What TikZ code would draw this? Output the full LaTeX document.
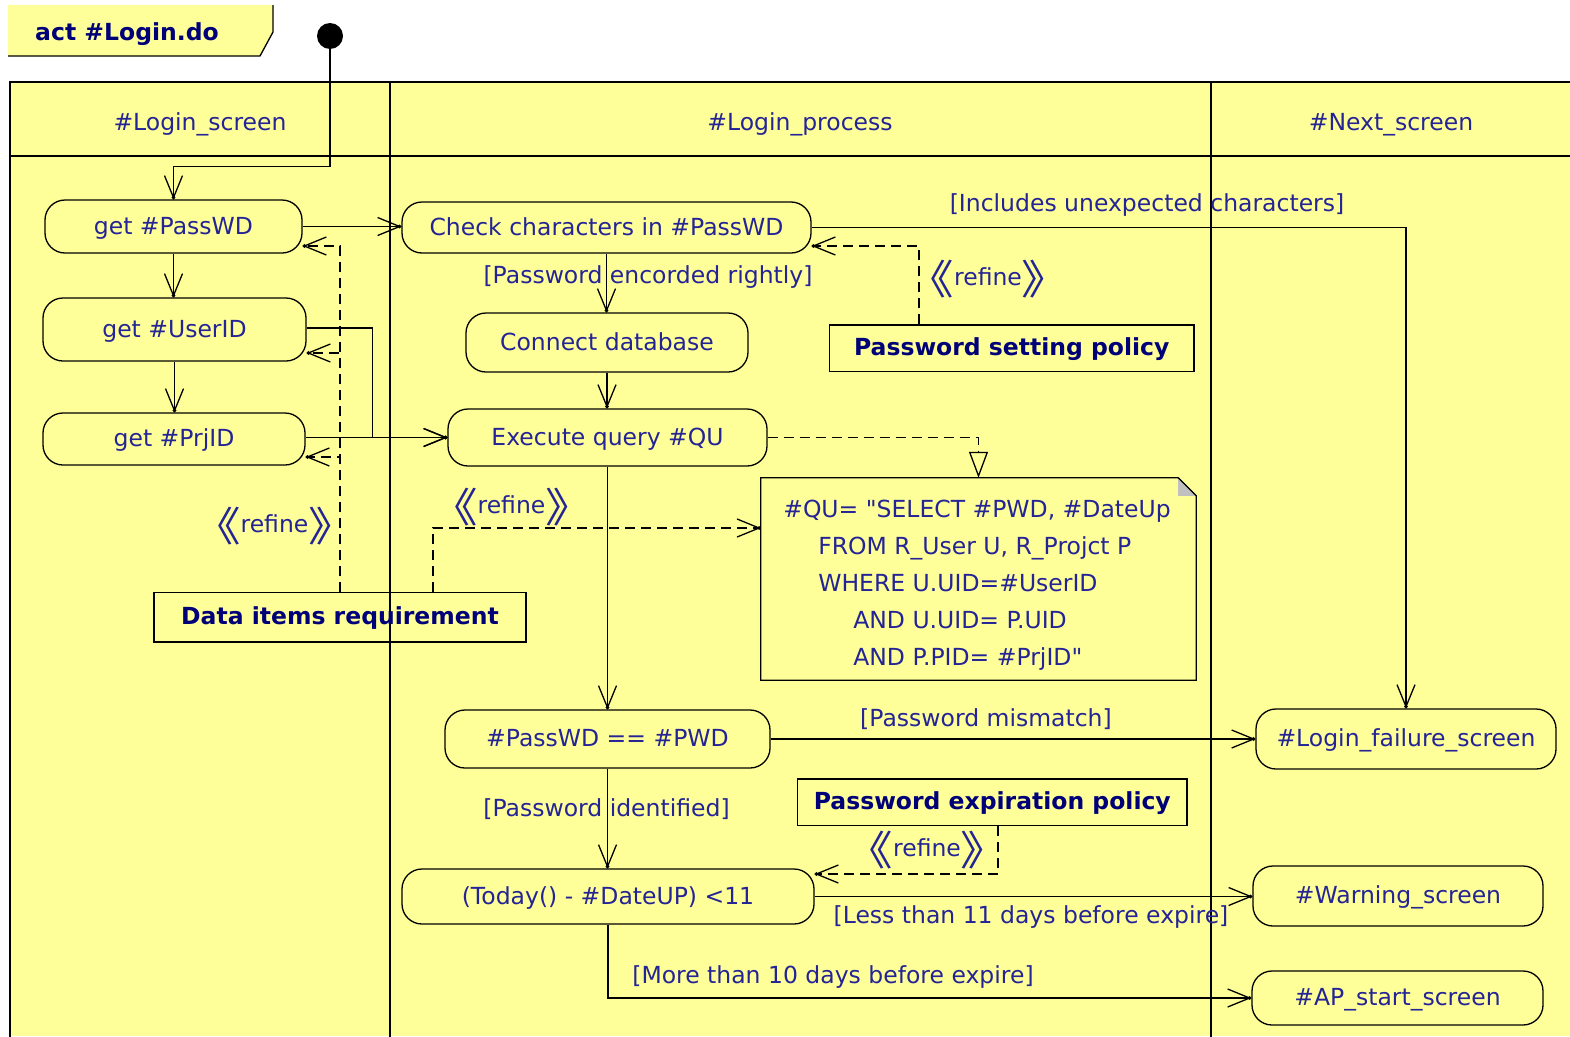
\documentclass[tikz,border=0pt]{standalone}
\usepackage{fontspec}
\setmainfont{DejaVu Sans}[Ligatures=TeXOff]
\newfontfamily\cjkfont{Noto Sans CJK SC}
\usetikzlibrary{arrows.meta,calc}
\definecolor{lanebg}{RGB}{255,255,153}
\definecolor{ink}{RGB}{36,36,150}
\definecolor{inkbold}{RGB}{0,0,120}
\definecolor{foldgray}{RGB}{192,192,192}
% stereotype label with CJK double angle brackets
\newcommand\stbracket[1]{\raisebox{-8.5pt}{\scalebox{1.7}[1.45]{\cjkfont\fontsize{28}{28}\selectfont #1}}}
\newcommand\refinelabel{\stbracket{《}refine\stbracket{》}}

\begin{document}
\begin{tikzpicture}[x=1pt,y=-1pt,
  txt/.style={font=\fontsize{23.5}{28}\selectfont, text=ink, inner sep=0pt, text height=17pt, text depth=2pt},
  action/.style={draw, line width=1.3pt, rounded corners=20pt, inner sep=0pt, txt},
  reqbox/.style={draw, line width=1.3pt, inner sep=0pt, font=\bfseries\fontsize{23.5}{28}\selectfont, text=inkbold, text height=17pt, text depth=2pt},
  tipV/.style={-{Straight Barb[length=22pt,width=18pt,sep=-3.5pt]Circle[length=3.5pt]}},
  flow/.style={line width=1.3pt, tipV},
  dep/.style={line width=1.3pt, dash pattern=on 10pt off 6pt, tipV},
  realize/.style={line width=1.3pt, dash pattern=on 10pt off 6pt, -{Triangle[length=26pt,width=19pt,fill=lanebg]}},
]
\useasboundingbox (0,0) rectangle (1570,1036);
\clip (0,0) rectangle (1570,1036);
\fill[white] (0,0) rectangle (1570,1036);

% frame tab
\fill[lanebg] (8,5) -- (273,5) -- (273,32) -- (260,56) -- (8,56) -- cycle;
\draw[line width=1.3pt] (273,5) -- (273,32) -- (260,56) -- (8,56);
\node[font=\bfseries\fontsize{23.5}{28}\selectfont, text=inkbold, inner sep=0pt, text height=17pt, text depth=2pt] (title) at (127,33) {act \#Login.do};

% swimlanes
\fill[lanebg] (10,82) rectangle (1570,1036);
\draw[line width=1.4pt] (10,1040) -- (10,82) -- (1575,82);
\draw[line width=1.4pt] (10,156) -- (1575,156);
\draw[line width=1.4pt] (390,82) -- (390,1040);
\draw[line width=1.4pt] (1211,82) -- (1211,1040);
\node[txt] (lane1) at (200,122.5) {\#Login\_screen};
\node[txt] (lane2) at (800,122.5) {\#Login\_process};
\node[txt] (lane3) at (1391,122.5) {\#Next\_screen};

% initial node
\node[circle, fill=black, minimum size=26pt, inner sep=0pt] (init) at (330,36) {};

% actions
\node[action, minimum width=257pt, minimum height=53pt] (pass) at (173.5,226.5) {get \#PassWD};
\node[action, minimum width=263pt, minimum height=63pt] (user) at (174.5,329.5) {get \#UserID};
\node[action, minimum width=262pt, minimum height=52pt] (prj) at (174,439) {get \#PrjID};
\node[action, minimum width=409pt, minimum height=51pt] (check) at (606.5,227.5) {Check characters in \#PassWD};
\node[action, minimum width=282pt, minimum height=59pt] (conn) at (607,342.5) {Connect database};
\node[action, minimum width=319pt, minimum height=57pt] (exec) at (607.5,437.5) {Execute query \#QU};
\node[action, minimum width=325pt, minimum height=58pt] (cmp) at (607.5,739) {\#PassWD == \#PWD};
\node[action, minimum width=412pt, minimum height=55pt] (today) at (608,896.5) {(Today() - \#DateUP) <11};
\node[action, minimum width=300pt, minimum height=60pt] (fail) at (1406,739) {\#Login\_failure\_screen};
\node[action, minimum width=290pt, minimum height=60pt] (warn) at (1398,896) {\#Warning\_screen};
\node[action, minimum width=291pt, minimum height=54pt] (ap) at (1397.5,998) {\#AP\_start\_screen};

% requirement boxes
\node[reqbox, minimum width=364.5pt, minimum height=46.7pt] (setpol) at (1011.75,348.3) {Password setting policy};
\node[reqbox, minimum width=372pt, minimum height=49.3pt] (data) at (340,617.3) {Data items requirement};
\node[reqbox, minimum width=389.4pt, minimum height=46.7pt] (exppol) at (992.3,802.3) {Password expiration policy};

% query note: dog-eared outline and its text
\node[minimum width=435pt, minimum height=202pt, inner sep=0pt] (note) at (978.5,579) {};
\draw[line width=1.3pt] (note.north west) -- ($(note.north east)+(-18,0)$)
  -- ($(note.north east)+(0,18)$) -- (note.south east) -- (note.south west) -- cycle;
\fill[foldgray] ($(note.north east)+(-18,0)$) -- ($(note.north east)+(0,18)$)
  -- ($(note.north east)+(-18,18)$) -- cycle;
\draw[line width=1pt] ($(note.north east)+(-18,0)$) -- ($(note.north east)+(0,18)$);
\node[font=\fontsize{23.5}{37}\selectfont, text=ink, inner sep=0pt, align=left] (notetext) at (977,585)
  {\#QU= "SELECT \#PWD, \#DateUp\\
   \hspace*{35pt}FROM R\_User U, R\_Projct P\\
   \hspace*{35pt}WHERE U.UID=\#UserID\\
   \hspace*{70pt}AND U.UID= P.UID\\
   \hspace*{70pt}AND P.PID= \#PrjID"};

% control flow
\draw[flow] (init.south) |- ($(pass.north)+(0,-33)$) -- (pass.north);
\draw[flow] (pass.south) -- (pass.south |- user.north);
\draw[flow] (user.south) -- (user.south |- prj.north);
\draw[flow] (pass.east) -- (pass.east -| check.west);
\draw[flow] ([yshift=1.5pt]user.east) -- ++(66,0) |- (exec.west);
\draw[flow] (exec.west -| prj.east) -- (exec.west);
\draw[flow] (check.south) -- (check.south |- conn.north);
\draw[flow] (conn.south) -- (conn.south |- exec.north);
\draw[flow] (exec.south) -- (exec.south |- cmp.north);
\draw[flow] (check.east) -| (fail.north);
\draw[flow] (cmp.east) -- (cmp.east -| fail.west);
\draw[flow] (cmp.south) -- (cmp.south |- today.north);
\draw[flow] (today.east) -- (today.east -| warn.west);
\draw[flow] (today.south) |- (ap.west);

% guards
\node[txt] (g1) at (648,276) {[Password encorded rightly]};
\node[txt] (g2) at (1147,204) {[Includes unexpected characters]};
\node[txt] (g3) at (986,719) {[Password mismatch]};
\node[txt] (g4) at (606.5,809) {[Password identified]};
\node[txt] (g5) at (1031,916) {[Less than 11 days before expire]};
\node[txt] (g6) at (833,976) {[More than 10 days before expire]};

% refine dependencies
\draw[dep] (data.north) |- ([yshift=-19.5pt]pass.east);
\draw[dep] (data.north) |- ([yshift=-23.5pt]user.east);
\draw[dep] (data.north) |- ([yshift=-18pt]prj.east);
\draw[dep] ([xshift=93pt]data.north) |- ([yshift=51pt]note.west);
\draw[dep] ([xshift=-92.75pt]setpol.north) |- ([yshift=-18.5pt]check.east);
\draw[dep] ([xshift=5.7pt]exppol.south) |- ([yshift=22.5pt]today.east);
\draw[realize] (exec.east) -| (note.north);

\node[txt] (rf1) at (274.5,525) {\refinelabel};
\node[txt] (rf2) at (511.5,506) {\refinelabel};
\node[txt] (rf3) at (988,278) {\refinelabel};
\node[txt] (rf4) at (927,849) {\refinelabel};
\end{tikzpicture}
\end{document}
